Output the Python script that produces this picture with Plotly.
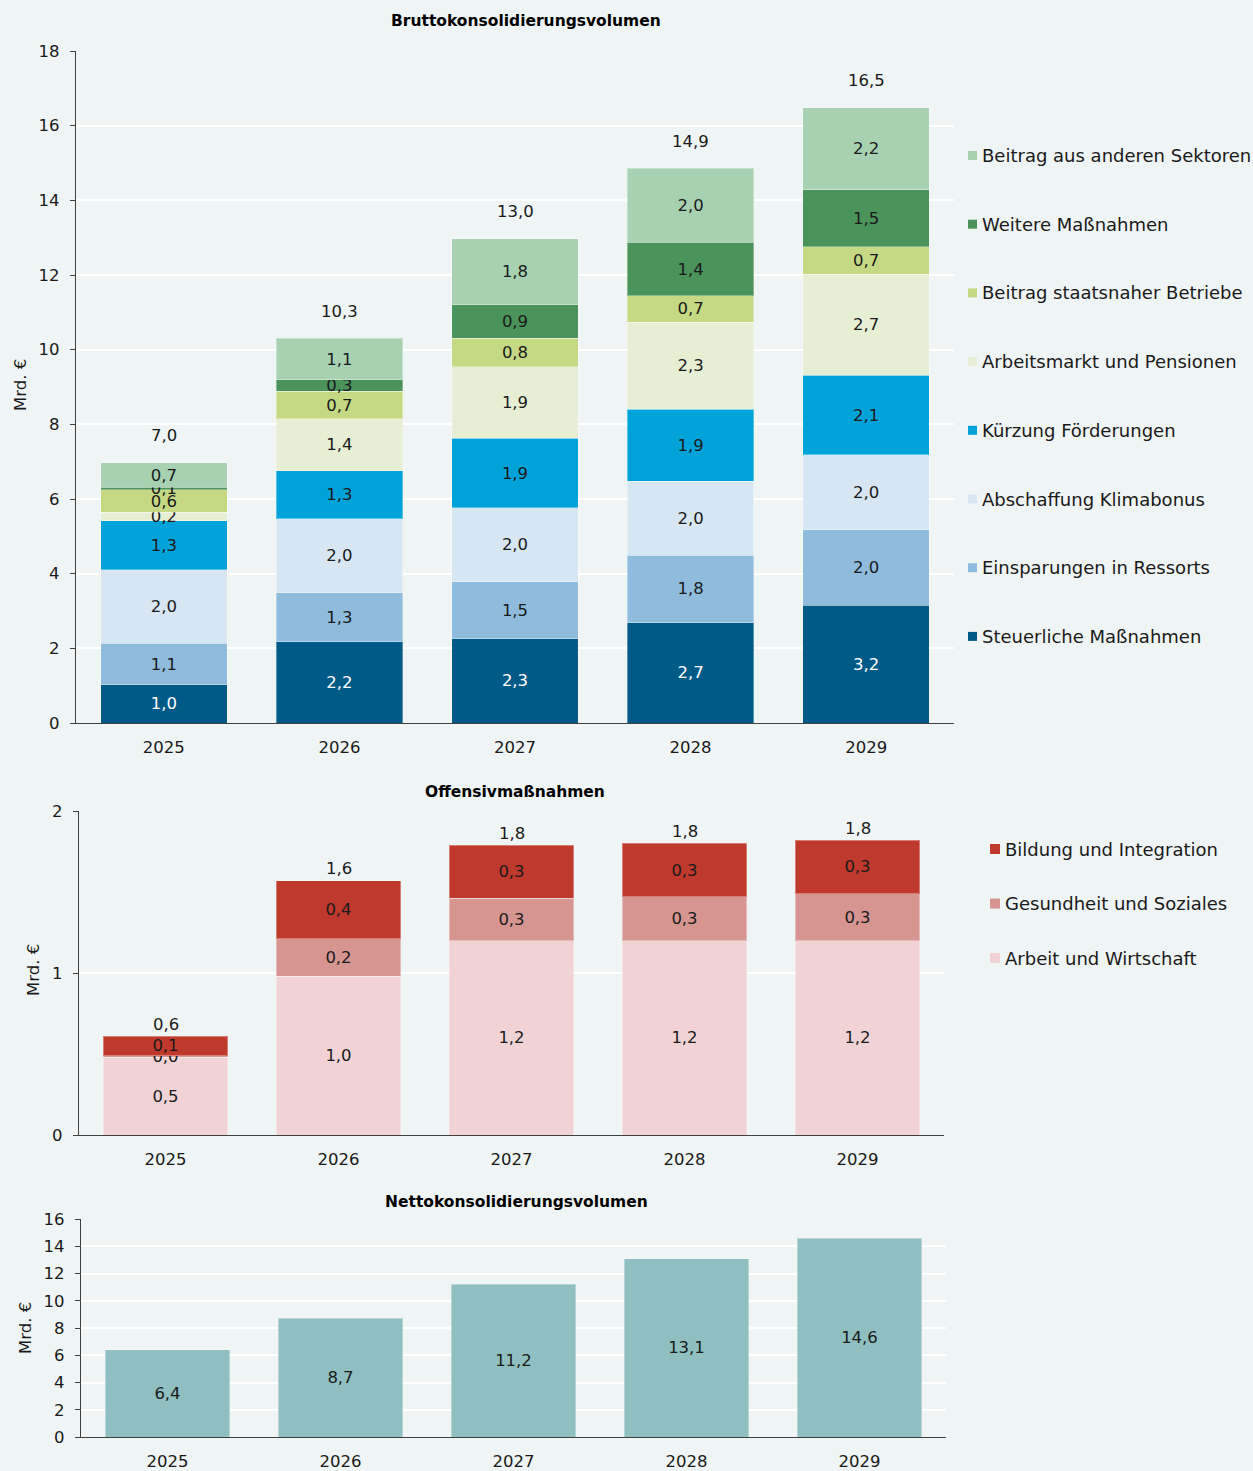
import plotly.graph_objects as go

# ---- data -------------------------------------------------------------
years = ["2025", "2026", "2027", "2028", "2029"]

# Bruttokonsolidierungsvolumen (Mrd. €), stacked from bottom to top
steuerliche = [1.02, 2.18, 2.26, 2.68, 3.16]
einsparungen = [1.11, 1.31, 1.52, 1.82, 2.01]
klimabonus = [1.98, 1.98, 1.98, 1.98, 2.01]
foerderungen = [1.31, 1.29, 1.87, 1.93, 2.14]
arbeitsmarkt = [0.22, 1.39, 1.91, 2.33, 2.70]
staatsnahe = [0.61, 0.73, 0.77, 0.70, 0.74]
weitere = [0.06, 0.32, 0.89, 1.44, 1.53]
andere_sektoren = [0.66, 1.10, 1.77, 1.98, 2.19]

# Offensivmaßnahmen (Mrd. €)
arbeit_wirtschaft = [0.48, 0.98, 1.20, 1.20, 1.20]
gesundheit_soziales = [0.01, 0.23, 0.26, 0.27, 0.29]
bildung_integration = [0.12, 0.36, 0.33, 0.33, 0.33]

# Nettokonsolidierungsvolumen (Mrd. €)
netto = [6.4, 8.7, 11.2, 13.1, 14.6]

brutto_series = [
    ("Steuerliche Maßnahmen", steuerliche, "#005a87", "white"),
    ("Einsparungen in Ressorts", einsparungen, "#8fbcdd", "#1a1a1a"),
    ("Abschaffung Klimabonus", klimabonus, "#d6e6f2", "#1a1a1a"),
    ("Kürzung Förderungen", foerderungen, "#00a3d9", "#1a1a1a"),
    ("Arbeitsmarkt und Pensionen", arbeitsmarkt, "#e6efd3", "#1a1a1a"),
    ("Beitrag staatsnaher Betriebe", staatsnahe, "#c5d984", "#1a1a1a"),
    ("Weitere Maßnahmen", weitere, "#4a935a", "#1a1a1a"),
    ("Beitrag aus anderen Sektoren", andere_sektoren, "#a8d1b1", "#1a1a1a"),
]
offensiv_series = [
    ("Arbeit und Wirtschaft", arbeit_wirtschaft, "#f2d3d5", "#1a1a1a"),
    ("Gesundheit und Soziales", gesundheit_soziales, "#d79592", "#1a1a1a"),
    ("Bildung und Integration", bildung_integration, "#c0392d", "#1a1a1a"),
]

# ---- styling helpers ---------------------------------------------------
W, H = 1253, 1471
BG = "#eff4f4"
FONT = "DejaVu Sans"
TXT = "#1a1a1a"
AXIS = "#404040"
NUM = 16.5


def px(x):
    return x / W


def py(y):
    return 1 - y / H


def fmt(v):
    return f"{v:.1f}".replace(".", ",")


fig = go.Figure()


def add_stack(series, xa, ya):
    for name, vals, color, tcolor in series:
        fig.add_trace(go.Bar(
            x=years, y=vals, name=name, xaxis=xa, yaxis=ya,
            marker=dict(color=color, line=dict(color="rgba(255,255,255,0.35)", width=1)),
            texttemplate="%{y:.1f}", textposition="inside",
            insidetextanchor="middle", textangle=0, constraintext="none",
            textfont=dict(family=FONT, size=NUM, color=tcolor),
            showlegend=False, cliponaxis=False,
        ))


add_stack(brutto_series, "x", "y")
add_stack(offensiv_series, "x2", "y2")

fig.add_trace(go.Bar(
    x=years, y=netto, name="Nettokonsolidierungsvolumen", xaxis="x3", yaxis="y3",
    marker=dict(color="#8fbfc0", line=dict(color="rgba(255,255,255,0.35)", width=1)),
    texttemplate="%{y:.1f}", textposition="inside", insidetextanchor="middle",
    textangle=0, constraintext="none",
    textfont=dict(family=FONT, size=NUM, color=TXT), showlegend=False,
))

annotations = []

# totals above the stacks (x given as category index)
brutto_tot = [round(sum(v), 2) for v in zip(*[s[1] for s in brutto_series])]
offensiv_tot = [round(sum(v), 2) for v in zip(*[s[1] for s in offensiv_series])]
for i, t in enumerate(brutto_tot):
    annotations.append(dict(x=i, y=t, xref="x", yref="y", text=fmt(t),
                            showarrow=False, yanchor="middle", yshift=27,
                            font=dict(family=FONT, size=NUM, color=TXT)))
for i, t in enumerate(offensiv_tot):
    annotations.append(dict(x=i, y=t, xref="x2", yref="y2", text=fmt(t),
                            showarrow=False, yanchor="middle", yshift=12,
                            font=dict(family=FONT, size=NUM, color=TXT)))

# panel titles
for text, cx, cy in [("Bruttokonsolidierungsvolumen", 526, 21),
                     ("Offensivmaßnahmen", 515, 792),
                     ("Nettokonsolidierungsvolumen", 516, 1202)]:
    annotations.append(dict(x=px(cx), y=py(cy), xref="paper", yref="paper",
                            text=f"<b>{text}</b>", showarrow=False,
                            xanchor="center", yanchor="middle",
                            font=dict(family=FONT, size=15.5, color="black")))

# y-axis units
for cx, cy in [(20, 385), (33, 970), (25, 1328)]:
    annotations.append(dict(x=px(cx), y=py(cy), xref="paper", yref="paper",
                            text="Mrd. €", showarrow=False, textangle=-90,
                            xanchor="center", yanchor="middle",
                            font=dict(family=FONT, size=16.5, color=TXT)))

# legends: square swatch + label, top entry = last series in the stack
shapes = []


def add_legend(series, x_sq, y_first, step, size=9):
    for i, (name, _, color, _) in enumerate(reversed(series)):
        cy = y_first + i * step
        shapes.append(dict(type="rect", xref="paper", yref="paper",
                           x0=px(x_sq), x1=px(x_sq + size),
                           y0=py(cy + size / 2), y1=py(cy - size / 2),
                           fillcolor=color, line=dict(width=0)))
        annotations.append(dict(x=px(x_sq + size + 3), y=py(cy), xref="paper",
                                yref="paper", text=name, showarrow=False,
                                xanchor="left", yanchor="middle",
                                font=dict(family=FONT, size=18, color=TXT)))


add_legend(brutto_series, 968, 155.5, 68.7)
add_legend(offensiv_series, 990, 849, 54.5, size=10)


def yaxis(domain, rng, dtick, anchor):
    return dict(domain=domain, range=rng, dtick=dtick, anchor=anchor,
                showline=True, linecolor=AXIS, linewidth=1.2,
                ticks="outside", ticklen=5, tickcolor=AXIS, tickwidth=1.2,
                showgrid=True, gridcolor="white", gridwidth=2, zeroline=False,
                ticklabelstandoff=7, automargin=False,
                tickfont=dict(family=FONT, size=NUM, color=TXT), fixedrange=True)


def xaxis(domain, anchor):
    return dict(domain=domain, anchor=anchor, type="category",
                range=[-0.5, len(years) - 0.5], autorange=False,
                showline=True, linecolor=AXIS, linewidth=1.2, ticks="",
                ticklabelstandoff=9, automargin=False,
                tickfont=dict(family=FONT, size=NUM, color=TXT), fixedrange=True)


fig.update_layout(
    width=W, height=H,
    margin=dict(l=0, r=0, t=0, b=0, autoexpand=False),
    paper_bgcolor=BG, plot_bgcolor=BG,
    barmode="stack", bargap=0.28,
    separators=",.",
    showlegend=False,
    font=dict(family=FONT, color=TXT),
    xaxis=xaxis([px(76), px(954)], "y"),
    yaxis=yaxis([py(723), py(51)], [0, 18], 2, "x"),
    xaxis2=xaxis([px(79), px(944)], "y2"),
    yaxis2=yaxis([py(1135), py(811)], [0, 2], 1, "x2"),
    xaxis3=xaxis([px(81), px(946)], "y3"),
    yaxis3=yaxis([py(1437), py(1219)], [0, 16], 2, "x3"),
    annotations=annotations,
    shapes=shapes,
)

fig.write_html("out.html")
